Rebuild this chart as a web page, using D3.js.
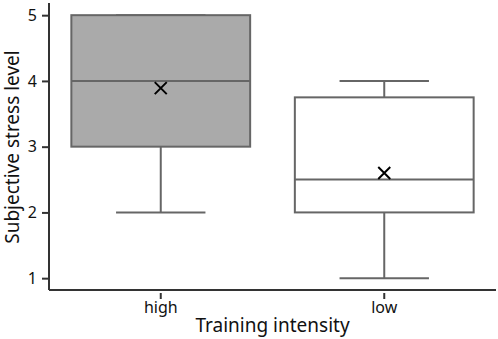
<!DOCTYPE html>
<html>
<head>
<meta charset="utf-8">
<script src="https://cdn.jsdelivr.net/npm/d3@7"></script>
<style>
  body { margin: 0; background: #fff; }
  text { font-family: "Noto Sans", "DejaVu Sans", sans-serif; fill: #111; }
</style>
</head>
<body>
<div id="chart"></div>
<script>
const categories = ['high', 'low'];
const whiskerLow = [2, 1];
const q1 = [3, 2];
const median = [4, 2.5];
const q3 = [5, 3.75];
const whiskerHigh = [5, 4];
const means = [3.89, 2.6];
const fills = ['#aaaaaa', '#ffffff'];
const yTicks = [1, 2, 3, 4, 5];

const width = 498, height = 339;
const margin = { top: 4, right: 2, bottom: 49, left: 49 };

const data = categories.map((c, i) => ({
  cat: c, lo: whiskerLow[i], q1: q1[i], med: median[i], q3: q3[i], hi: whiskerHigh[i], mean: means[i], fill: fills[i]
}));

const x = d3.scaleBand()
  .domain(categories)
  .range([margin.left, width - margin.right])
  .paddingInner(0.2)
  .paddingOuter(0.1);

const y = d3.scaleLinear()
  .domain([0.82, 5.17])
  .range([height - margin.bottom, margin.top]);

const svg = d3.select('#chart')
  .append('svg')
  .attr('width', width)
  .attr('height', height);

// boxes
const g = svg.append('g')
  .selectAll('g')
  .data(data)
  .join('g');

const stroke = '#666';
const bw = x.bandwidth();

g.append('line')
  .attr('x1', d => x(d.cat) + bw / 2)
  .attr('x2', d => x(d.cat) + bw / 2)
  .attr('y1', d => y(d.lo))
  .attr('y2', d => y(d.hi))
  .attr('stroke', stroke)
  .attr('stroke-width', 2);

g.append('line')
  .attr('x1', d => x(d.cat) + bw / 4)
  .attr('x2', d => x(d.cat) + bw * 3 / 4)
  .attr('y1', d => y(d.lo))
  .attr('y2', d => y(d.lo))
  .attr('stroke', stroke)
  .attr('stroke-width', 2);

g.append('line')
  .attr('x1', d => x(d.cat) + bw / 4)
  .attr('x2', d => x(d.cat) + bw * 3 / 4)
  .attr('y1', d => y(d.hi))
  .attr('y2', d => y(d.hi))
  .attr('stroke', stroke)
  .attr('stroke-width', 2);

g.append('rect')
  .attr('x', d => x(d.cat))
  .attr('width', bw)
  .attr('y', d => y(d.q3))
  .attr('height', d => y(d.q1) - y(d.q3))
  .attr('fill', d => d.fill)
  .attr('stroke', stroke)
  .attr('stroke-width', 2);

g.append('line')
  .attr('x1', d => x(d.cat))
  .attr('x2', d => x(d.cat) + bw)
  .attr('y1', d => y(d.med))
  .attr('y2', d => y(d.med))
  .attr('stroke', stroke)
  .attr('stroke-width', 2);

// mean markers
g.append('path')
  .attr('transform', d => `translate(${x(d.cat) + bw / 2},${y(d.mean)})`)
  .attr('d', 'M-6,-6L6,6M-6,6L6,-6')
  .attr('stroke', '#000')
  .attr('stroke-width', 2)
  .attr('fill', 'none');

// axes
svg.append('g')
  .attr('transform', `translate(${margin.left},0)`)
  .call(d3.axisLeft(y).tickValues(yTicks).tickFormat(d3.format('d')).tickSize(7).tickPadding(5))
  .call(g => g.select('.domain').attr('d', `M0,${margin.top - 1}V${height - margin.bottom}`))
  .call(g => g.selectAll('line, path').attr('stroke', '#333').attr('stroke-width', 2))
  .call(g => g.selectAll('text').attr('font-size', 16).attr('fill', '#111'));

svg.append('g')
  .attr('transform', `translate(0,${height - margin.bottom})`)
  .call(d3.axisBottom(x).tickSize(-7).tickSizeOuter(0).tickPadding(12))
  .call(g => g.select('.domain').attr('d', `M${margin.left},0H${width - margin.right}`))
  .call(g => g.selectAll('.tick line').attr('y1', 3).attr('y2', 9))
  .call(g => g.selectAll('line, path').attr('stroke', '#333').attr('stroke-width', 2))
  .call(g => g.selectAll('text').attr('font-size', 16).attr('fill', '#111'));

svg.append('text')
  .attr('transform', `translate(${(margin.left + width - margin.right) / 2},${height - 7})`)
  .style('text-anchor', 'middle')
  .style('font-size', '19px')
  .text('Training intensity');

svg.append('text')
  .attr('transform', `translate(19,${(margin.top + height - margin.bottom) / 2}) rotate(-90)`)
  .style('text-anchor', 'middle')
  .style('font-size', '19px')
  .text('Subjective stress level');
</script>
</body>
</html>
